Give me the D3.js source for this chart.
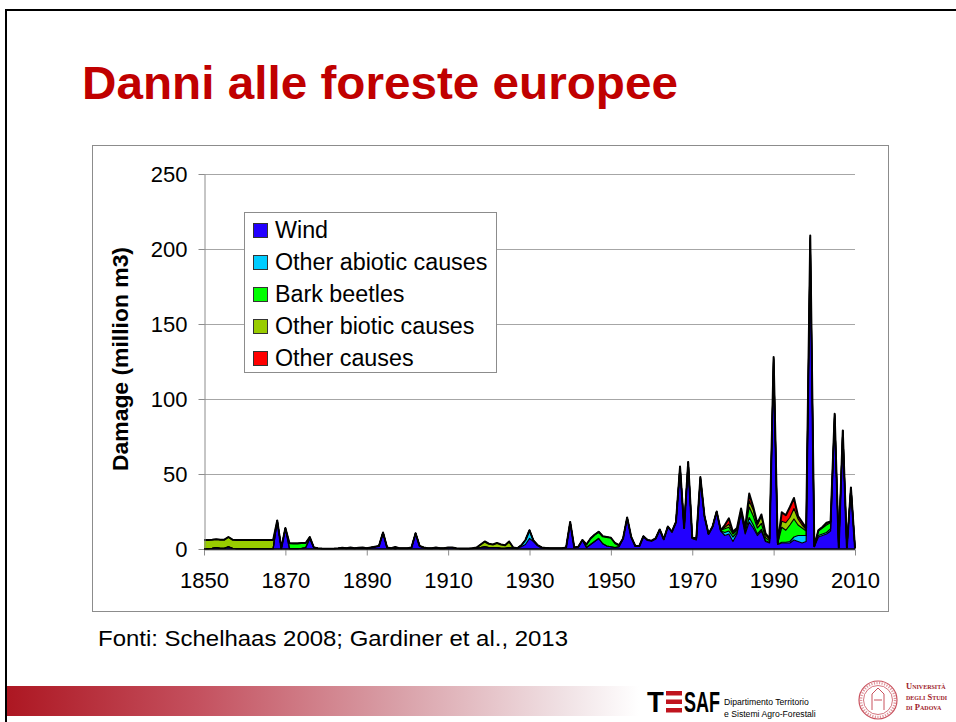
<!DOCTYPE html>
<html><head><meta charset="utf-8">
<script src="https://cdn.jsdelivr.net/npm/d3@7"></script>
<style>body{margin:0;background:#fff;overflow:hidden;} svg{display:block;font-family:"Liberation Sans",Arial,sans-serif;}</style>
</head><body><svg id="c" width="956" height="722"></svg>
<script>
// ---- DATA (million m3 per year, 1850–2010) ----
const years = d3.range(1850, 2011);
const wind = [
  0.3,0.3,0.5,1,0.5,0.5,1.5,0.5,0.3,0.3,      // 1850s
  0.2,0.2,0.2,0.2,0.2,0.2,0.2,0.2,19,0.5,     // 1860s
  14,0.3,0.2,0.2,0.5,1,7,1,0.5,0.3,           // 1870s
  0.2,0.2,0.3,0.5,0.8,0.5,1,0.5,0.8,1,        // 1880s
  0.5,1,1.5,2,11,1,0.5,0.3,0.5,0.5,           // 1890s
  0.5,1,10.5,2,1,0.5,0.5,1,0.5,0.5,           // 1900s
  1,1,0.5,0.3,0.3,0.3,0.5,0.5,1,1.5,          // 1910s
  1,1,1,0.5,0.5,1,0.5,0.5,1.5,3,              // 1920s
  7,5,2.5,1,0.7,0.5,0.5,0.5,0.5,1,            // 1930s
  18,1,1.5,6,1,3,5,7,3.5,2,                   // 1940s
  1.5,1,1.5,7,21,8,2,2,8.5,6,                 // 1950s
  5.5,7,13,6.5,15,11.5,18,55,14,58,           // 1960s
  7,6,47,22,10,15,25,12,9,10,                 // 1970s
  5,10,24,10,18,14,9,12,5,4,                  // 1980s
  126,3,4,4,4,6,5,4,5,205,                    // 1990s
  1.5,8,9,10,12,89,1,79,1,41,                 // 2000s
  0.5                                         // 2010
];
const otherAbiotic = [
  0,0,0,0,0,0,0,0,0,0,  0,0,0,0,0,0,0,0,0,0,  0,0,0,0,0,0,0,0,0,0,
  0,0,0,0,0,0,0,0,0,0,  0,0,0,0,0,0,0,0,0,0,  0,0,0,0,0,0,0,0,0,0,
  0,0,0,0,0,0,0,0,0,0,
  0,0,0,0,0,0,0,0,1,3,                        // 1920s
  5.5,0.5,0,0,0,0,0,0,0,0,                    // 1930s
  0,0,0,0,0,0,0,0,0,0,  0,0,0,0,0,0,0,0,0,0,  0,0,0,0,0,0,0,0,0,0,
  0,0.2,0,0,0,0,0,0,2,2,                      // 1970s
  3,1,0.5,1,3,2,1,1,0.5,0.5,                  // 1980s
  0.5,0.2,0.5,0.5,1,2,4,5,4,1,                // 1990s
  0.2,1,1,1,1.5,0.3,0,0,0,0,                  // 2000s
  0
];
const barkBeetles = [
  0,0,0,0,0,0,0,0,0,0,  0,0,0,0,0,0,0,0,0,0,
  0,3.5,3.5,3.5,3.5,3,1,0,0,0,                // 1870s
  0,0,0,0,0,0,0,0,0,0,  0,0,0,0,0,0,0,0,0,0,  0,0,0,0,0,0,0,0,0,0,
  0,0,0,0,0,0,0,0,0,0,  0,0,0,0,0,0,0,0,0,0,  0,0,0,0,0,0,0,0,0,0,
  0,0,0,0,2,4,4.5,4.5,5,6,                    // 1940s
  6,3,1,0,0,0,0,0,0,0,                        // 1950s
  0,0,0,0,0,0,0,0,0,0,
  0.5,1,1,0,0,0,0,0.5,2.5,2.5,                // 1970s
  2,1.5,1.5,2,7,6,4,4,2,1,                    // 1980s
  0.5,0.5,10,8,11,12,7,5,3,1,                 // 1990s
  0.2,3,4,5,4,0.3,0,0,0,0,                    // 2000s
  0
];
const otherBiotic = [
  5.7,5.7,5.7,5.5,5.7,5.7,6.5,5.7,5.7,5.7,    // 1850s
  5.8,5.8,5.8,5.8,5.8,5.8,5.8,5.8,0,0,        // 1860s
  0,0,0,0,0,0,0,0,0,0,  0,0,0,0,0,0,0,0,0,0,
  0,0,0,0,0,0,0,1,0,0,                        // 1890s
  0,0,0,0,0,0,0,0,0,0,
  0,0,0,0,0,0,0,0.5,2,3.5,                    // 1910s
  2.5,2,3,2.5,2,4,0.5,0,0,0,                  // 1920s
  0,0,0,0,0,0,0,0,0,0,  0,0,0,0,0,0,0,0,0,0,  0,0,0,0,0,0,0,0,0,0,
  0,0,0,0,0,0,0,0,0,0,
  0,0,0,0,0,0,0,0,1,2,                        // 1970s
  1,1,0.5,0.5,4,4,2,5,2,1,                    // 1980s
  0.5,0.2,4,5,5,7,4,2,1,1,                    // 1990s
  0,0.5,0.5,1,0.5,0.3,0,0,0,0,                // 2000s
  0
];
const otherCauses = [
  0,0,0,0,0,0,0,0,0,0,  0,0,0,0,0,0,0,0,0,0,  0,0,0,0,0,0,0,0,0,0,
  0,0,0,0,0,0,0,0,0,0,  0,0,0,0,0,0,0,0,0,0,  0,0,0,0,0,0,0,0,0,0,
  0,0,0,0,0,0,0,0,0,0,  0,0,0,0,0,0,0,0,0,0,  0,0,0,0,0,0,0,0,0,0,
  0,0,0,0,0,0,0,0,0,0,  0,0,0,0,0,0,0,0,0,0,  0,0,0,0,0,0,0,0,0,0,
  0,0,0,0,0,0,0,0,1.5,4,                      // 1970s
  0.5,0.5,0.5,0.5,5,2,1,1,1,0.5,              // 1980s
  0.5,0.2,6,5,7,7,2,2,1,1,                    // 1990s
  0,0,0.2,0.5,0.3,0.3,0,0,0,0,                // 2000s
  0
];
const seriesKeys   = ["wind","otherAbiotic","barkBeetles","otherBiotic","otherCauses"];
const seriesNames  = ["Wind","Other abiotic causes","Bark beetles","Other biotic causes","Other causes"];
const seriesColors = ["#2200ff","#00ccff","#00ff00","#99cc00","#ff0000"];
const yTicks = [0,50,100,150,200,250];
const xTicks = [1850,1870,1890,1910,1930,1950,1970,1990,2010];

const table = years.map((yr,i)=>({year:yr, wind:wind[i], otherAbiotic:otherAbiotic[i],
  barkBeetles:barkBeetles[i], otherBiotic:otherBiotic[i], otherCauses:otherCauses[i]}));

// ---- DRAW ----
const svg = d3.select("#c");

// slide frame
svg.append("rect").attr("x",6).attr("y",10).attr("width",1000).attr("height",800)
  .attr("fill","none").attr("stroke","#000").attr("stroke-width",2);

// title
svg.append("text").attr("x",82).attr("y",99).attr("fill","#c00000")
  .attr("font-size",47).attr("font-weight","bold")
  .attr("textLength",596).attr("lengthAdjust","spacingAndGlyphs")
  .text("Danni alle foreste europee");

// chart frame
svg.append("rect").attr("x",92.5).attr("y",145.5).attr("width",796).attr("height",466)
  .attr("fill","#fff").attr("stroke","#8c8c8c").attr("stroke-width",1);

const x = d3.scaleLinear().domain([1850,2010]).range([204,855]);
const y = d3.scaleLinear().domain([0,250]).range([549,174]);

// gridlines
svg.append("g").selectAll("line").data(yTicks.filter(d=>d>0)).join("line")
  .attr("x1",204).attr("x2",855).attr("y1",d=>y(d)+0.5).attr("y2",d=>y(d)+0.5)
  .attr("stroke","#a6a6a6").attr("stroke-width",1);

// stacked areas
const stack = d3.stack().keys(seriesKeys);
const layers = stack(table);
const area = d3.area().x(d=>x(d.data.year)).y0(d=>y(d[0])).y1(d=>y(d[1]));
const line = d3.line().x(d=>x(d.data.year)).y(d=>y(d[1]));
svg.append("g").selectAll("path").data(layers).join("path")
  .attr("d",area).attr("fill",(d,i)=>seriesColors[i]);
svg.append("g").selectAll("path").data(layers).join("path")
  .attr("d",line).attr("fill","none").attr("stroke","#000")
  .attr("stroke-width",(d,i)=>i===layers.length-1?2:1.2).attr("stroke-linejoin","round");

// axes
const yAxis = svg.append("g").attr("transform","translate(204.5,0)")
  .call(d3.axisLeft(y).tickValues(yTicks).tickSize(6).tickSizeOuter(0).tickPadding(11));
const xAxis = svg.append("g").attr("transform","translate(0,549.5)")
  .call(d3.axisBottom(x).tickValues(xTicks).tickFormat(d3.format("d")).tickSize(6).tickSizeOuter(0).tickPadding(17));
[yAxis,xAxis].forEach(g=>{
  g.selectAll("path,line").attr("stroke","#8c8c8c");
  g.selectAll("text").attr("font-size",22).attr("fill","#000")
   .attr("font-family","'Liberation Sans',Arial,sans-serif");
});
// baseline over areas
svg.append("line").attr("x1",204).attr("x2",855).attr("y1",549).attr("y2",549)
  .attr("stroke","#000").attr("stroke-width",1.5);

// y title
svg.append("text").attr("transform","translate(128,359) rotate(-90)")
  .attr("text-anchor","middle").attr("font-size",22).attr("font-weight","bold")
  .attr("textLength",224).attr("lengthAdjust","spacingAndGlyphs")
  .text("Damage (million m3)");

// legend
const lg = svg.append("g");
lg.append("rect").attr("x",244.5).attr("y",212.5).attr("width",252).attr("height",160)
  .attr("fill","#fff").attr("stroke","#8c8c8c");
const items = lg.selectAll("g.item").data(seriesNames).join("g").attr("class","item")
  .attr("transform",(d,i)=>`translate(0,${238+i*32})`);
items.append("rect").attr("x",253.5).attr("y",-14.5).attr("width",14).attr("height",14)
  .attr("fill",(d,i)=>seriesColors[i]).attr("stroke","#333").attr("stroke-width",1);
items.append("text").attr("x",275).attr("y",0).attr("font-size",23.3).text(d=>d);

// source
svg.append("text").attr("x",98).attr("y",646).attr("font-size",22.5)
  .attr("textLength",470).attr("lengthAdjust","spacingAndGlyphs")
  .text("Fonti: Schelhaas 2008; Gardiner et al., 2013");

// bottom gradient bar
const defs = svg.append("defs");
const grad = defs.append("linearGradient").attr("id","bar").attr("x1","0").attr("x2","1");
[["0%","#ad1722"],["30%","#c4505e"],["62%","#d9a0a8"],["88%","#f0e1e4"],["100%","#ffffff"]]
  .forEach(s=>grad.append("stop").attr("offset",s[0]).attr("stop-color",s[1]));
svg.append("rect").attr("x",7).attr("y",686).attr("width",632).attr("height",30).attr("fill","url(#bar)");

// TESAF logo (horizontally condensed via transforms)
svg.append("text").attr("transform","translate(647,712) scale(0.92,1)")
  .attr("font-size",30).attr("font-weight","bold").text("T");
[691,699.5,708].forEach(yy=>svg.append("rect").attr("x",666).attr("y",yy).attr("width",16).attr("height",4.5).attr("fill","#c0141e"));
svg.append("text").attr("transform","translate(684,712) scale(0.6,1)")
  .attr("font-size",30).attr("font-weight","bold").text("SAF");
svg.append("text").attr("transform","translate(724,705) scale(0.93,1)")
  .attr("font-size",9.3).text("Dipartimento Territorio");
svg.append("text").attr("transform","translate(724,716.5) scale(0.93,1)")
  .attr("font-size",9.3).text("e Sistemi Agro-Forestali");

// Università seal
const seal = svg.append("g").attr("fill","none").attr("stroke","#c9525e");
seal.append("circle").attr("cx",878).attr("cy",700).attr("r",19).attr("stroke-width",1.2);
seal.append("circle").attr("cx",878).attr("cy",700).attr("r",14.5).attr("stroke-width",0.8);
seal.append("circle").attr("cx",878).attr("cy",700).attr("r",17).attr("stroke-width",2.5).attr("stroke-dasharray","1.2 1.4").attr("opacity",0.6);
seal.append("path").attr("d","M872 710 L872 694 L878 688 L884 694 L884 710 M874 700 L882 700").attr("stroke-width",1);
const uni = svg.append("g").attr("fill","#9e1b2a").attr("font-family","'Liberation Serif',serif").attr("font-weight","bold");
[["Università",689],["degli Studi",699.5],["di Padova",710]].forEach(t=>
  uni.append("text").attr("x",906).attr("y",t[1]).attr("font-size",8.5).attr("font-variant","small-caps")
    .text(t[0]));
</script></body></html>
